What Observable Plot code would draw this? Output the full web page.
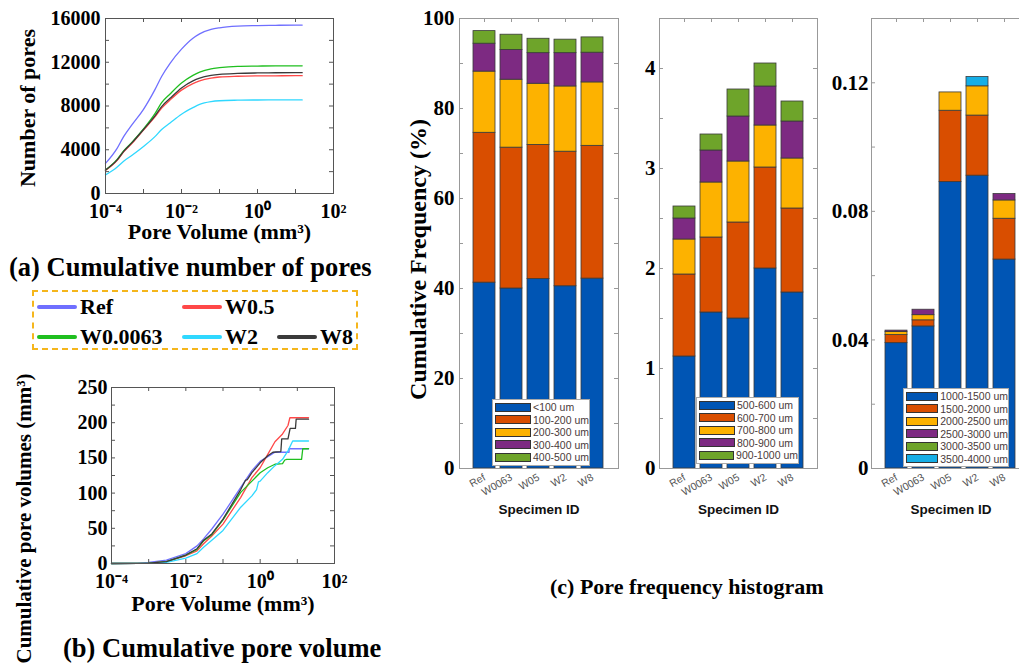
<!DOCTYPE html>
<html><head><meta charset="utf-8">
<script src="https://cdn.jsdelivr.net/npm/d3@7"></script>
<script src="https://cdn.jsdelivr.net/npm/@observablehq/plot@0.6"></script>
<style>
html,body{margin:0;padding:0;background:#fff;overflow:hidden;width:1019px;height:664px}
#root{position:relative;width:1019px;height:664px;overflow:hidden}
.ttl{position:absolute;font-family:"Liberation Serif","Times New Roman",serif;font-weight:bold;color:#000;white-space:nowrap;line-height:1}
svg{overflow:visible}
</style></head><body><div id="root"></div>
<script>
// ---------------- DATA ----------------
const seriesNames = ["Ref", "W0.5", "W0.0063", "W2", "W8"];
const seriesColors = ["#6f6fff", "#ff4848", "#1fbf1f", "#2fd8ff", "#3a3a3a"];

// (a) cumulative number of pores vs pore volume (mm3)
const volA = [0.0001, 0.0002, 0.0003, 0.0005, 0.001, 0.002, 0.003, 0.005, 0.01, 0.02, 0.03, 0.06, 0.1, 0.3, 1, 3, 10, 15];
const poresRef   = [2750, 4100, 5200, 6300, 7700, 9500, 10700, 11900, 13200, 14200, 14600, 15000, 15150, 15300, 15350, 15380, 15400, 15400];
const poresW05   = [2100, 3000, 3800, 4600, 5800, 7000, 7800, 8550, 9450, 10050, 10300, 10550, 10650, 10720, 10750, 10760, 10770, 10770];
const poresW0063 = [2150, 3100, 3900, 4700, 5900, 7300, 8300, 9100, 10100, 10800, 11100, 11400, 11500, 11620, 11650, 11670, 11670, 11670];
const poresW2    = [1700, 2400, 2950, 3500, 4300, 5200, 5850, 6450, 7250, 7850, 8150, 8400, 8480, 8530, 8550, 8560, 8560, 8560];
const poresW8    = [2150, 3050, 3850, 4650, 5850, 7100, 7950, 8700, 9650, 10300, 10550, 10800, 10900, 10980, 11020, 11040, 11050, 11050];

// (b) cumulative pore volume (mm3) vs pore volume (mm3)
const volBRef   = [0.0001, 0.0005, 0.001, 0.003, 0.01, 0.02, 0.03, 0.05, 0.1, 0.3, 0.6, 1, 2, 2.5, 6, 6, 20];
const cumBRef   = [0, 0.3, 1.4, 4.7, 14, 25, 35, 49, 70, 108, 132, 145, 155, 158, 158, 163, 163];
const volBW05   = [0.0001, 0.0005, 0.001, 0.003, 0.01, 0.02, 0.03, 0.05, 0.1, 0.3, 0.6, 1, 1.6, 2.5, 4, 5.6, 6.3, 20];
const cumBW05   = [0, 0.1, 0.5, 2.5, 11, 18, 28, 39, 56, 94, 122, 136, 155, 173, 184, 196, 207, 207];
const volBW0063 = [0.0001, 0.0005, 0.001, 0.003, 0.01, 0.02, 0.03, 0.05, 0.1, 0.3, 0.6, 1, 1.6, 2.5, 4, 4.6, 5.2, 13, 14, 20];
const cumBW0063 = [0, 0.1, 0.5, 2.8, 12, 20, 32, 41, 62, 101, 117, 129, 136, 141, 142, 147, 148, 148, 163, 163];
const volBW2    = [0.0001, 0.0005, 0.001, 0.003, 0.01, 0.02, 0.03, 0.05, 0.1, 0.3, 0.6, 0.8, 0.9, 1, 1.6, 2.5, 4, 5.6, 7.5, 20];
const cumBW2    = [0, 0.1, 0.3, 1.5, 7.6, 14, 23, 33, 47, 80, 96, 105, 116, 117, 129, 139, 148, 160, 174, 174];
const volBW8    = [0.0001, 0.0005, 0.001, 0.003, 0.01, 0.02, 0.03, 0.05, 0.1, 0.3, 0.4, 0.45, 0.6, 1, 1.6, 2.2, 3.6, 3.8, 5.6, 6.4, 8.9, 9.3, 20];
const cumBW8    = [0, 0.1, 0.5, 2.8, 12, 21, 33, 42, 63, 105, 118, 119, 129, 143, 153, 158, 159, 177, 177, 192, 192, 205, 205];

// (c) pore frequency histogram (%)
const specimens = ["Ref", "W0063", "W05", "W2", "W8"];
const binColors = ["#0055b4", "#d94e00", "#fdb200", "#7d2a82", "#6ea42a", "#16aee6"];

const bins1 = ["<100 um", "100-200 um", "200-300 um", "300-400 um", "400-500 um"];
const f_lt100   = [41.3, 40.0, 42.1, 40.5, 42.2];
const f_100_200 = [33.3, 31.3, 29.8, 29.9, 29.5];
const f_200_300 = [13.6, 15.1, 13.6, 14.5, 14.1];
const f_300_400 = [6.2, 6.6, 6.8, 7.4, 6.6];
const f_400_500 = [2.8, 3.4, 3.2, 3.0, 3.4];

const bins2 = ["500-600 um", "600-700 um", "700-800 um", "800-900 um", "900-1000 um"];
const f_500_600  = [1.12, 1.56, 1.50, 2.00, 1.76];
const f_600_700  = [0.82, 0.75, 0.96, 1.01, 0.84];
const f_700_800  = [0.35, 0.55, 0.61, 0.42, 0.50];
const f_800_900  = [0.21, 0.32, 0.45, 0.39, 0.37];
const f_900_1000 = [0.12, 0.16, 0.27, 0.23, 0.20];

const bins3 = ["1000-1500 um", "1500-2000 um", "2000-2500 um", "2500-3000 um", "3000-3500 um", "3500-4000 um"];
const f_1000_1500 = [0.0390, 0.0442, 0.0891, 0.0911, 0.0650];
const f_1500_2000 = [0.0025, 0.0019, 0.0222, 0.0187, 0.0127];
const f_2000_2500 = [0.0010, 0.0016, 0.0057, 0.0091, 0.0057];
const f_2500_3000 = [0.0004, 0.0017, 0, 0, 0.0020];
const f_3000_3500 = [0, 0, 0, 0, 0];
const f_3500_4000 = [0, 0, 0, 0.0029, 0];

// tick labels
const logTicks = [1e-4, 1e-2, 1, 1e2];
const decadeTicks = [1e-4, 1e-3, 1e-2, 1e-1, 1, 1e1, 1e2];
const ticksA = [0, 4000, 8000, 12000, 16000];
const ticksB = [0, 50, 100, 150, 200, 250];
const ticksC1 = [0, 20, 40, 60, 80, 100];
const ticksC2 = [0, 1, 2, 3, 4];
const ticksC3 = [0, 0.04, 0.08, 0.12];

// ---------------- DRAWING ----------------
const root = document.getElementById("root");
const serif = '"Liberation Serif","Times New Roman",serif';
const sans = '"Liberation Sans",Arial,Helvetica,sans-serif';
const supMap = {"-": "\u207B", "0": "\u2070", "1": "\u00B9", "2": "\u00B2", "3": "\u00B3", "4": "\u2074"};
const fmtPow = v => "10" + String(Math.round(Math.log10(v))).split("").map(c => supMap[c]).join("");
const fmtPlain = v => String(v);
const range = (a, b, s) => d3.range(a, b + s / 2, s);

function place(el, left, top) {
  el.style.position = "absolute";
  el.style.left = left + "px";
  el.style.top = top + "px";
  root.appendChild(el);
  return el;
}

function lineChart(o) {
  const W = o.width - o.ml - o.mr, H = o.height - o.mt - o.mb;
  const rows = [];
  o.series.forEach(s => s.x.forEach((x, i) => rows.push({name: s.name, x, y: s.y[i]})));
  const tc = "#555";
  return Plot.plot({
    width: o.width, height: o.height,
    marginLeft: o.ml, marginRight: o.mr, marginTop: o.mt, marginBottom: o.mb,
    style: {fontFamily: serif, background: "transparent", overflow: "visible", color: "#000"},
    x: {type: "log", domain: [1e-4, 1e2], label: null},
    y: {domain: o.yDomain, label: null},
    color: {domain: seriesNames, range: seriesColors},
    marks: [
      Plot.line(rows, {x: "x", y: "y", z: "name", stroke: "name", strokeWidth: 1.3, curve: o.curve}),
      Plot.frame({stroke: tc}),
      Plot.tickY(o.yMinor, {y: d => d, stroke: tc, insetRight: W - 4}),
      Plot.tickY(o.yMinor, {y: d => d, stroke: tc, insetLeft: W - 4}),
      Plot.tickX(decadeTicks, {x: d => d, stroke: tc, insetTop: H - 4}),
      Plot.tickX(decadeTicks, {x: d => d, stroke: tc, insetBottom: H - 4}),
      Plot.axisY({ticks: o.yTicks, tickFormat: fmtPlain, tickSize: 0, tickPadding: o.yPad, fontSize: 20, fontWeight: "bold", fill: "#000", label: null}),
      Plot.axisX({ticks: logTicks, tickFormat: fmtPow, tickSize: 0, tickPadding: 10, fontSize: 20, fontWeight: "bold", fill: "#000", label: null}),
      Plot.text([o.xlabel], {frameAnchor: "bottom", lineAnchor: "middle", dy: o.xlabelDy, fontSize: 22, fontWeight: "bold", fill: "#000"}),
      Plot.text([o.ylabel], {frameAnchor: "left", textAnchor: "middle", lineAnchor: "middle", dx: o.ylabelDx, dy: o.ylabelDy, rotate: -90, fontSize: o.ylabelSize, fontWeight: "bold", fill: "#000"})
    ]
  });
}

function barChart(o) {
  const W = o.width - o.ml - o.mr, H = o.height - o.mt - o.mb;
  const rows = [];
  o.bins.forEach((b, j) => specimens.forEach((s, i) => {
    const v = o.values[j][i];
    if (v > 0) rows.push({specimen: s, bin: b, value: v});
  }));
  const tc = "#999";
  const marks = [
    Plot.barY(rows, Plot.stackY({x: "specimen", y: "value", fill: "bin", stroke: "#3a3a3a", strokeWidth: 0.8, order: o.bins})),
    Plot.frame({stroke: tc}),
    Plot.tickY(o.yMinor, {y: d => d, stroke: tc, insetRight: W - 4}),
    Plot.tickY(o.yMinor, {y: d => d, stroke: tc, insetLeft: W - 4}),
    Plot.tickX(specimens, {x: d => d, stroke: tc, insetBottom: H - 4}),
    Plot.axisY({ticks: o.yTicks, tickFormat: fmtPlain, tickSize: 0, tickPadding: o.yPad, fontSize: 21, fontWeight: "bold", fill: "#000", label: null, fontFamily: serif}),
    Plot.axisX({tickSize: 0, tickPadding: 8, tickRotate: -30, fontSize: 10.5, fontFamily: sans, fill: "#555", label: null}),
    Plot.text(["Specimen ID"], {frameAnchor: "bottom", lineAnchor: "middle", dy: 41, fontFamily: sans, fontWeight: "bold", fontSize: 13.5, fill: "#111"})
  ];
  if (o.ylabel) marks.push(Plot.text([o.ylabel], {frameAnchor: "left", textAnchor: "middle", lineAnchor: "middle", dx: o.ylabelDx, dy: o.ylabelDy, rotate: -90, fontSize: 24, fontWeight: "bold", fontFamily: serif, fill: "#000"}));
  return Plot.plot({
    width: o.width, height: o.height,
    marginLeft: o.ml, marginRight: o.mr, marginTop: o.mt, marginBottom: o.mb,
    style: {fontFamily: serif, background: "transparent", overflow: "visible", color: "#000"},
    x: {type: "band", domain: specimens, paddingInner: 0.18, paddingOuter: 0.5, label: null},
    y: {domain: o.yDomain, label: null},
    color: {domain: o.bins, range: binColors.slice(0, o.bins.length)},
    marks
  });
}

function barLegend(bins, left, top, width) {
  const box = document.createElement("div");
  box.style.cssText = `width:${width}px;border:1px solid #aaa;background:#fff;padding:1px 0 1px 0;box-sizing:border-box`;
  bins.forEach((b, i) => {
    const row = document.createElement("div");
    row.style.cssText = "display:flex;align-items:center;height:12.5px";
    const sw = document.createElement("div");
    sw.style.cssText = `width:36px;height:9px;margin-left:2px;box-sizing:border-box;border:1px solid #333;background:${binColors[i]}`;
    const tx = document.createElement("div");
    tx.style.cssText = `margin-left:2px;font:10.5px ${sans};color:#4a3a3a;white-space:nowrap`;
    tx.textContent = b;
    row.appendChild(sw); row.appendChild(tx); box.appendChild(row);
  });
  place(box, left, top);
}

function title(text, left, top, size) {
  const d = document.createElement("div");
  d.className = "ttl";
  d.style.fontSize = size + "px";
  d.textContent = text;
  place(d, left, top);
}

// (a)
place(lineChart({
  width: 345, height: 245, ml: 105, mr: 12, mt: 18, mb: 52,
  series: [
    {name: "Ref", x: volA, y: poresRef},
    {name: "W0.5", x: volA, y: poresW05},
    {name: "W0.0063", x: volA, y: poresW0063},
    {name: "W2", x: volA, y: poresW2},
    {name: "W8", x: volA, y: poresW8}
  ],
  yDomain: [0, 16000], yTicks: ticksA, yMinor: range(0, 16000, 2000), yPad: 5,
  curve: "monotone-x",
  xlabel: "Pore Volume (mm\u00B3)", xlabelDy: 38,
  ylabel: "Number of pores", ylabelDx: -78, ylabelDy: 2, ylabelSize: 22
}), 0, 0);

title("(a) Cumulative number of pores", 9, 254, 26.5);

// legend for (a)
(function () {
  const box = document.createElement("div");
  box.style.cssText = "width:326px;height:60px;box-sizing:border-box;border:2px dashed #f5b61c";
  place(box, 32, 290);
  const slots = [[37, 307], [182, 307], [37, 337], [182, 337], [277, 337]];
  seriesNames.forEach((n, i) => {
    const [x, y] = slots[i];
    const ln = document.createElement("div");
    ln.style.cssText = `width:40px;height:4px;border-radius:2px;background:${seriesColors[i]}`;
    place(ln, x, y - 2);
    const tx = document.createElement("div");
    tx.className = "ttl";
    tx.style.fontSize = "22px";
    tx.textContent = n;
    place(tx, x + 43, y - 11);
  });
})();

// (b)
place(lineChart({
  width: 345, height: 292, ml: 111, mr: 11, mt: 15, mb: 101,
  series: [
    {name: "Ref", x: volBRef, y: cumBRef},
    {name: "W0.5", x: volBW05, y: cumBW05},
    {name: "W0.0063", x: volBW0063, y: cumBW0063},
    {name: "W2", x: volBW2, y: cumBW2},
    {name: "W8", x: volBW8, y: cumBW8}
  ],
  yDomain: [0, 250], yTicks: ticksB, yMinor: range(0, 250, 25), yPad: 4,
  curve: "linear",
  xlabel: "Pore Volume (mm\u00B3)", xlabelDy: 40,
  ylabel: "Cumulative pore volumes (mm\u00B3)", ylabelDx: -87, ylabelDy: 43, ylabelSize: 21
}), 0, 372);

title("(b) Cumulative pore volume", 63, 635, 26.5);

// (c)
place(barChart({
  width: 229, height: 530, ml: 62, mr: 8, mt: 18, mb: 62,
  bins: bins1, values: [f_lt100, f_100_200, f_200_300, f_300_400, f_400_500],
  yDomain: [0, 100], yTicks: ticksC1, yMinor: range(0, 100, 10), yPad: 5,
  ylabel: "Cumulative Frequency (%)", ylabelDx: -41, ylabelDy: 16
}), 397, 0);
place(barChart({
  width: 193, height: 530, ml: 30, mr: 5, mt: 18, mb: 62,
  bins: bins2, values: [f_500_600, f_600_700, f_700_800, f_800_900, f_900_1000],
  yDomain: [0, 4.5], yTicks: ticksC2, yMinor: range(0, 4.5, 0.5), yPad: 4
}), 629, 0);
place(barChart({
  width: 209, height: 530, ml: 48, mr: 2, mt: 18, mb: 62,
  bins: bins3, values: [f_1000_1500, f_1500_2000, f_2000_2500, f_2500_3000, f_3000_3500, f_3500_4000],
  yDomain: [0, 0.14], yTicks: ticksC3, yMinor: range(0, 0.14, 0.02), yPad: 3
}), 823, 0);

barLegend(bins1, 492, 399, 98);
barLegend(bins2, 696, 397, 103);
barLegend(bins3, 903, 388, 106);

title("(c) Pore frequency histogram", 550, 576, 22);
</script></body></html>
